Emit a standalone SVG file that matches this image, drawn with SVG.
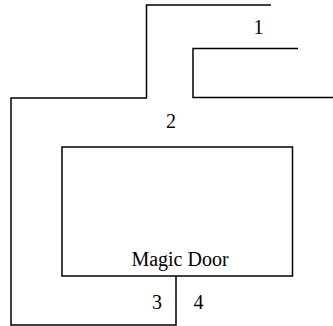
<svg xmlns="http://www.w3.org/2000/svg" width="333" height="326" viewBox="0 0 333 326">
<style>
.w{fill:none;stroke:#000;stroke-width:1.5}
text{font-family:"Liberation Serif","Times New Roman",serif;font-size:20px;fill:#000;text-anchor:middle}
</style>
<rect width="333" height="326" fill="#fff"/>
<g id="walls">
<path class="w" d="M271,5 H146.5 V98 H11 V325 H176 V276"/>
<path class="w" d="M298,48.5 H193 V97.5 H333"/>
</g>
<g id="door">
<rect class="w" x="62" y="147" width="230.5" height="129"/>
<text x="180" y="266">Magic Door</text>
</g>
<g id="labels">
<text x="258.5" y="34">1</text>
<text x="171" y="128">2</text>
<text x="157" y="309">3</text>
<text x="198.5" y="309">4</text>
</g>
</svg>
